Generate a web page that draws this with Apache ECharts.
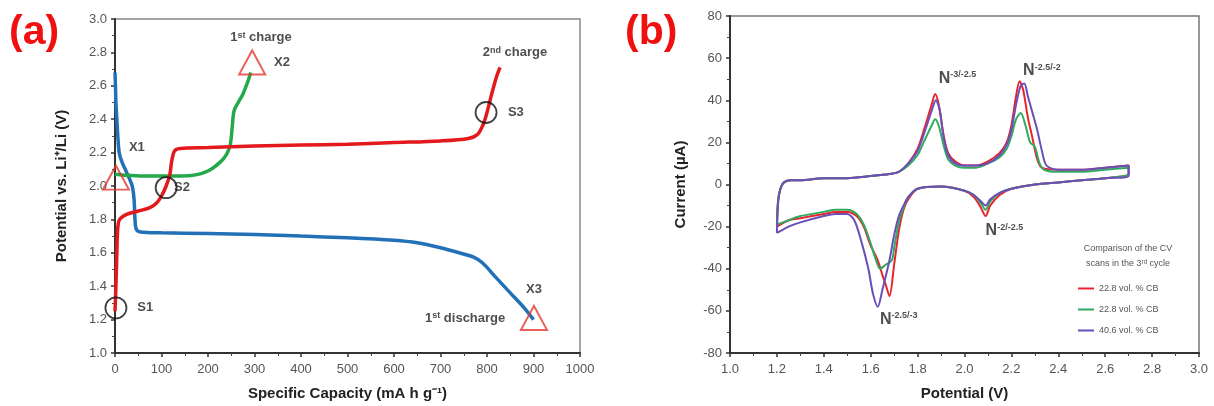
<!DOCTYPE html>
<html style="height:100%">
<head>
<meta charset="utf-8">
<script src="https://cdn.jsdelivr.net/npm/echarts@6/dist/echarts.min.js"></script>
</head>
<body style="height:100%; margin:0; background:#fff">
<div id="container" style="width:1214px; height:406px"></div>
<script type="text/javascript">
// ---- panel (a): galvanostatic curves [capacity, potential]
var discharge1 = [[0,2.68],[1,2.6],[2,2.5],[4,2.4],[6,2.3],[9,2.2],[14,2.15],[22,2.1],[30,2.05],[37,2.0],
    [41,1.92],[43,1.8],[46,1.74],[55,1.725],[100,1.72],[200,1.715],[300,1.71],[400,1.70],[500,1.69],
    [600,1.675],[650,1.66],[700,1.63],[740,1.6],[770,1.575],[790,1.54],[820,1.45],[850,1.36],[880,1.27],[900,1.20]];
var charge1 = [[0,2.07],[20,2.065],[60,2.06],[100,2.06],[140,2.06],[170,2.065],[200,2.09],[225,2.14],
    [240,2.19],[248,2.25],[252,2.35],[256,2.45],[265,2.5],[275,2.55],[285,2.62],[292,2.68]];
var charge2 = [[0,1.25],[2,1.4],[4,1.6],[6,1.75],[10,1.8],[25,1.83],[50,1.85],[75,1.87],[90,1.9],[100,1.94],
    [110,2.0],[118,2.07],[122,2.15],[128,2.21],[140,2.225],[200,2.23],[300,2.24],[400,2.245],[500,2.25],
    [600,2.26],[700,2.27],[760,2.285],[780,2.31],[792,2.37],[800,2.44],[810,2.55],[820,2.65],[828,2.71]];
var triangles = [[2,2.05],[295,2.74],[901,1.21]];
var circles = [[2,1.27],[110,1.99],[798,2.44]];
var labelsA = [
    {name: '1{s|st} charge', value: [314,2.89]},
    {name: '2{s|nd} charge', value: [860,2.80]},
    {name: '1{s|st} discharge', value: [753,1.21]},
    {name: 'X1', value: [47,2.23]},
    {name: 'X2', value: [359,2.74]},
    {name: 'X3', value: [901,1.38]},
    {name: 'S1', value: [65,1.27]},
    {name: 'S2', value: [144,1.99]},
    {name: 'S3', value: [862,2.44]}
];

// ---- panel (b): cyclic voltammetry [potential, current]
var cvNames = ['22.8 vol. % CB', '22.8 vol. % CB ', '40.6 vol. % CB'];
var cvRed = [[1.2,-20],[1.205,-8],[1.215,-2],[1.23,1],[1.26,2],[1.3,2],[1.4,3],[1.5,3],[1.6,4],[1.68,5],[1.72,6],
    [1.76,10],[1.8,17],[1.83,27],[1.86,38],[1.875,43],[1.89,38],[1.91,24],[1.93,15],[1.96,11],[2.0,9],[2.05,9],
    [2.1,11],[2.15,15],[2.18,20],[2.2,28],[2.22,42],[2.235,49],[2.25,45],[2.27,32],[2.29,22],[2.31,12],[2.33,8],
    [2.4,7],[2.5,7],[2.6,8],[2.7,9],
    [2.7,5],[2.6,3],[2.5,2],[2.4,1],[2.3,0],[2.2,-2],[2.15,-5],[2.11,-10],[2.09,-15],[2.07,-11],[2.04,-6],[2.0,-3],
    [1.9,-1],[1.8,-2],[1.76,-7],[1.74,-12],[1.72,-22],[1.7,-38],[1.68,-53],[1.665,-48],[1.65,-43],[1.63,-36],
    [1.6,-29],[1.57,-20],[1.54,-15],[1.5,-13],[1.45,-13],[1.4,-14],[1.3,-16],[1.25,-17],[1.2,-20]];
var cvGreen = [[1.2,-19],[1.205,-7],[1.215,-2],[1.23,1],[1.26,2],[1.3,2],[1.4,3],[1.5,3],[1.6,4],[1.68,5],[1.72,6],
    [1.76,9],[1.8,14],[1.83,21],[1.86,28],[1.875,31],[1.89,28],[1.91,19],[1.93,12],[1.96,9],[2.0,8],[2.05,8],
    [2.1,10],[2.15,13],[2.18,17],[2.2,23],[2.22,31],[2.24,34],[2.26,28],[2.28,20],[2.3,18],[2.32,10],[2.34,7],
    [2.4,6],[2.5,6],[2.6,7],[2.7,8],
    [2.7,5],[2.6,3],[2.5,2],[2.4,1],[2.3,0],[2.2,-2],[2.15,-4],[2.11,-8],[2.09,-12],[2.07,-9],[2.04,-5],[2.0,-3],
    [1.9,-1],[1.8,-2],[1.76,-6],[1.74,-11],[1.72,-18],[1.7,-30],[1.69,-36],[1.665,-38],[1.64,-40],[1.62,-35],
    [1.6,-28],[1.57,-19],[1.54,-14],[1.5,-12],[1.45,-12],[1.4,-13],[1.3,-15],[1.25,-17],[1.2,-19]];
var cvPurple = [[1.2,-23],[1.205,-9],[1.215,-2],[1.23,1],[1.26,2],[1.3,2],[1.4,3],[1.5,3],[1.6,4],[1.68,5],[1.72,6],
    [1.76,10],[1.8,16],[1.83,25],[1.86,35],[1.878,40],[1.895,35],[1.91,23],[1.93,14],[1.96,10],[2.0,9],[2.05,9],
    [2.1,10],[2.15,14],[2.18,19],[2.2,26],[2.22,38],[2.24,47],[2.255,48],[2.27,42],[2.29,34],[2.31,26],[2.33,16],
    [2.35,9],[2.4,7],[2.5,7],[2.6,8],[2.7,9],
    [2.7,4],[2.6,3],[2.5,2],[2.4,1],[2.3,0],[2.2,-2],[2.15,-4],[2.11,-7],[2.09,-10],[2.07,-8],[2.04,-5],[2.0,-3],
    [1.9,-1],[1.8,-2],[1.76,-6],[1.74,-10],[1.72,-15],[1.7,-24],[1.68,-36],[1.65,-50],[1.63,-58],[1.61,-52],
    [1.59,-40],[1.56,-27],[1.53,-17],[1.5,-14],[1.45,-14],[1.4,-15],[1.3,-18],[1.25,-20],[1.2,-23]];
var labelsB = [
    {name: '{b|N}{s|-3/-2.5}', value: [1.97,50.5]},
    {name: '{b|N}{s|-2.5/-2}', value: [2.33,54]},
    {name: '{b|N}{s|-2/-2.5}', value: [2.17,-22]},
    {name: '{b|N}{s|-2.5/-3}', value: [1.72,-64]}
];

var font = 'Liberation Sans, Arial, sans-serif';
var dom = document.getElementById('container');
var myChart = echarts.init(dom, null, {renderer: 'canvas'});

function axisX(grid, min, max, step, name, dec) {
    return {
        type: 'value', gridIndex: grid, min: min, max: max, interval: step,
        name: name, nameLocation: 'middle', nameGap: 33,
        nameTextStyle: {fontFamily: font, fontSize: 15, fontWeight: 'bold', color: '#222'},
        axisLine: {onZero: false, lineStyle: {color: '#333', width: 2}},
        axisTick: {inside: false, length: 4, lineStyle: {color: '#333', width: 1.5}},
        minorTick: {show: true, splitNumber: 2, length: 3, lineStyle: {color: '#444'}},
        axisLabel: {fontFamily: font, fontSize: 13, color: '#555', margin: 10,
            formatter: function (v) { return dec ? v.toFixed(dec) : String(v); }},
        splitLine: {show: false}
    };
}
function axisY(grid, min, max, step, name, gap, dec) {
    return {
        type: 'value', gridIndex: grid, min: min, max: max, interval: step,
        name: name, nameLocation: 'middle', nameGap: gap,
        nameTextStyle: {fontFamily: font, fontSize: 15, fontWeight: 'bold', color: '#222'},
        axisLine: {onZero: false, lineStyle: {color: '#333', width: 2}},
        axisTick: {inside: false, length: 4, lineStyle: {color: '#333', width: 1.5}},
        minorTick: {show: true, splitNumber: 2, length: 3, lineStyle: {color: '#444'}},
        axisLabel: {fontFamily: font, fontSize: 13, color: '#555', margin: 8,
            formatter: function (v) { return dec ? v.toFixed(dec) : String(v); }},
        splitLine: {show: false}
    };
}
function curve(name, data, color, x, y, w) {
    return {name: name, type: 'line', xAxisIndex: x, yAxisIndex: y, data: data,
        symbol: 'none', smooth: 0.3, lineStyle: {color: color, width: w}, itemStyle: {color: color}, z: 3};
}
function labels(data, x, y, size) {
    return {type: 'scatter', xAxisIndex: x, yAxisIndex: y, data: data, symbolSize: 1,
        itemStyle: {color: 'rgba(0,0,0,0)'}, z: 6, silent: true,
        label: {show: true, position: 'inside', formatter: function (p) { return p.name; },
            fontFamily: font, fontSize: size, fontWeight: 'bold', color: '#222',
            rich: {
                b: {fontFamily: font, fontSize: size, fontWeight: 'bold', color: '#222'},
                s: {fontFamily: font, fontSize: 9, fontWeight: 'bold', color: '#222', verticalAlign: 'top'}
            }}};
}

option = {
    animation: false,
    backgroundColor: '#fff',
    grid: [
        {left: 115, right: 634, top: 19, bottom: 53, show: true, borderColor: '#888', borderWidth: 1.5},
        {left: 730, right: 15, top: 16, bottom: 53, show: true, borderColor: '#777', borderWidth: 1.5}
    ],
    xAxis: [
        axisX(0, 0, 1000, 100, 'Specific Capacity (mA h g\u207B\u00B9)', 0),
        axisX(1, 1.0, 3.0, 0.2, 'Potential (V)', 1)
    ],
    yAxis: [
        axisY(0, 1.0, 3.0, 0.2, 'Potential vs. Li\u207A/Li (V)', 46, 1),
        axisY(1, -80, 80, 20, 'Current (\u00B5A)', 42, 0)
    ],
    legend: {
        data: cvNames, orient: 'vertical', left: 1073, top: 279, itemGap: 12,
        icon: 'rect', itemWidth: 16, itemHeight: 2,
        textStyle: {fontFamily: font, fontSize: 9, color: '#555'}
    },
    graphic: [
        {type: 'text', left: 9, top: 12, style: {text: '(a)', fontFamily: font, fontSize: 41, fontWeight: 'bold', fill: '#f01010'}},
        {type: 'text', left: 625, top: 12, style: {text: '(b)', fontFamily: font, fontSize: 41, fontWeight: 'bold', fill: '#f01010'}},
        {type: 'text', x: 1128, y: 244, style: {text: 'Comparison of the CV', fontFamily: font, fontSize: 9, fill: '#555', textAlign: 'center'}},
        {type: 'text', x: 1128, y: 259, style: {text: 'scans in the 3\u02B3\u1D48 cycle', fontFamily: font, fontSize: 9, fill: '#555', textAlign: 'center'}}
    ],
    series: [
        curve('1st discharge', discharge1, '#2270b8', 0, 0, 3.5),
        curve('1st charge', charge1, '#23a84a', 0, 0, 3.5),
        curve('2nd charge', charge2, '#e3191c', 0, 0, 3.5),
        {type: 'scatter', xAxisIndex: 0, yAxisIndex: 0, data: triangles, symbol: 'triangle', symbolSize: [26, 24],
            itemStyle: {color: 'rgba(255,255,255,0)', borderColor: '#e2382f', borderWidth: 2}, z: 5, silent: true},
        {type: 'scatter', xAxisIndex: 0, yAxisIndex: 0, data: circles, symbol: 'circle', symbolSize: 21,
            itemStyle: {color: 'rgba(255,255,255,0)', borderColor: '#111', borderWidth: 1.8}, z: 5, silent: true},
        labels(labelsA, 0, 0, 13),
        curve(cvNames[0], cvRed, '#e8242c', 1, 1, 2),
        curve(cvNames[1], cvGreen, '#2faa60', 1, 1, 2),
        curve(cvNames[2], cvPurple, '#6a4fb8', 1, 1, 2),
        labels(labelsB, 1, 1, 16)
    ]
};
myChart.setOption(option);
</script>
</body>
</html>
